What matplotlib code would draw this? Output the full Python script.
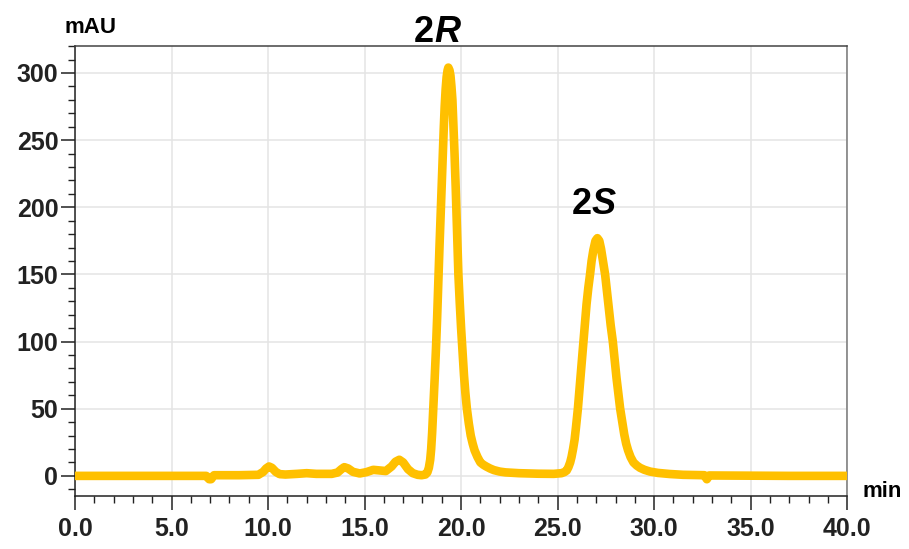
import matplotlib.pyplot as plt
from matplotlib.ticker import MultipleLocator, FormatStrFormatter

# retention time (min) and absorbance (mAU)
time = [0.0, 3.0, 6.8, 6.95, 7.05, 7.2, 8.5, 9.5, 9.75, 9.9, 10.05, 10.2, 10.4, 10.6,
        10.9, 11.5, 12.0, 12.5, 13.3, 13.6, 13.8, 13.95, 14.15, 14.4, 14.75, 15.1,
        15.45, 15.8, 16.1, 16.4, 16.6, 16.8, 17.0, 17.25, 17.5, 17.75, 17.95, 18.15,
        18.25, 18.33, 18.4, 18.45, 18.5, 18.56, 18.63, 18.7, 18.76, 18.82, 18.88,
        18.95, 19.0, 19.05, 19.1, 19.15, 19.2, 19.25, 19.3, 19.34, 19.4, 19.45,
        19.5, 19.55, 19.6, 19.66, 19.72, 19.79, 19.86, 19.93, 20.0, 20.08, 20.15,
        20.22, 20.3, 20.4, 20.5, 20.6, 20.7, 20.85, 21.0, 21.15, 21.3, 21.5, 21.7,
        22.0, 22.3, 23.0, 24.0, 24.8, 25.2, 25.35, 25.47, 25.56, 25.65, 25.72, 25.8,
        25.88, 25.95, 26.05, 26.12, 26.2, 26.27, 26.34, 26.42, 26.5, 26.59, 26.68,
        26.76, 26.85, 26.96, 27.06, 27.16, 27.25, 27.35, 27.46, 27.55, 27.65, 27.75,
        27.86, 27.95, 28.05, 28.15, 28.24, 28.35, 28.45, 28.55, 28.65, 28.78, 28.93,
        29.1, 29.27, 29.5, 29.79, 30.2, 30.8, 31.5, 32.6, 32.73, 32.85, 34.0, 37.0,
        40.0]
signal = [0.0, 0.0, 0.0, -2.5, -2.5, 0.5, 0.5, 0.8, 3.0, 5.5, 7.0, 6.0, 3.0, 1.3,
          1.0, 1.5, 2.0, 1.5, 1.5, 2.5, 5.0, 6.5, 5.5, 3.0, 1.8, 2.8,
          4.5, 4.0, 3.6, 7.0, 10.5, 12.0, 10.0, 5.0, 2.0, 0.8, 0.5, 1.0,
          2.5, 6.0, 12.0, 20.0, 32.0, 50.0, 72.0, 95.0, 118.0, 145.0, 170.0,
          198.0, 220.0, 240.0, 258.0, 275.0, 288.0, 297.0, 302.0, 304.0, 302.0, 298.0,
          290.0, 280.0, 262.0, 240.0, 215.0, 183.0, 150.0, 129.0, 110.0, 92.0, 75.0,
          62.0, 50.0, 39.0, 30.0, 24.0, 19.0, 14.0, 10.0, 8.3, 7.0, 5.5, 4.3,
          3.2, 2.6, 2.0, 1.6, 1.5, 2.0, 2.8, 4.0, 6.5, 10.0, 14.0, 20.0,
          27.0, 36.0, 50.0, 62.0, 75.0, 88.0, 100.0, 114.0, 128.0, 140.0, 150.0,
          160.0, 168.0, 175.0, 177.0, 175.0, 169.0, 160.0, 150.0, 138.0, 125.0, 112.0,
          100.0, 87.0, 73.0, 61.0, 50.0, 40.0, 31.0, 24.0, 19.0, 14.0, 10.0,
          7.7, 6.0, 4.5, 3.2, 2.2, 1.4, 0.8, 0.5, -2.5, 0.3, 0.2, 0.0,
          0.0]

peak_labels = [("2", "R", 18.6, 323), ("2", "S", 26.78, 195)]

fig = plt.figure(figsize=(9.09, 5.49), dpi=100)
ax = fig.add_axes([0.0825, 0.0965, 0.8495, 0.8195])

ax.plot(time, signal, color="#FFC000", linewidth=6.2,
        solid_capstyle="round", solid_joinstyle="round", zorder=3)

ax.set_xlim(0, 40)
ax.set_ylim(-15, 320)
ax.xaxis.set_major_locator(MultipleLocator(5))
ax.xaxis.set_minor_locator(MultipleLocator(1))
ax.yaxis.set_major_locator(MultipleLocator(50))
ax.yaxis.set_minor_locator(MultipleLocator(10))
ax.xaxis.set_major_formatter(FormatStrFormatter("%.1f"))

ax.grid(True, which="major", color="#e4e4e4", linewidth=1.1, zorder=0)
ax.tick_params(which="major", length=10, width=1.1, direction="out", pad=5,
               labelsize=18, colors="#222222")
ax.tick_params(which="minor", length=5, width=1.0, direction="out", color="#222222")
for lab in ax.get_xticklabels() + ax.get_yticklabels():
    lab.set_fontfamily("Liberation Sans")
    lab.set_fontweight("bold")
ax.tick_params(axis="y", pad=2)

ax.spines["left"].set_color("#222222")
ax.spines["bottom"].set_color("#222222")
ax.spines["top"].set_color("#444444")
ax.spines["right"].set_color("#777777")
for s in ax.spines.values():
    s.set_linewidth(1.1)

fig.text(90 / 909, 1 - 33 / 549, "mAU", ha="center", va="baseline",
         fontsize=16, fontfamily="Liberation Sans", fontweight="bold")
fig.text(882 / 909, 1 - 497 / 549, "min", ha="center", va="baseline",
         fontsize=16, fontfamily="Liberation Sans", fontweight="bold")

for num, letter, x, y in peak_labels:
    ax.text(x, y, num, ha="right", va="baseline", fontsize=26, fontweight="bold",
            fontfamily="Liberation Sans", clip_on=False)
    ax.text(x, y, letter, ha="left", va="baseline", fontsize=26, fontweight="bold",
            fontstyle="italic", fontfamily="Liberation Sans", clip_on=False)

plt.savefig("out.png", dpi=100)
